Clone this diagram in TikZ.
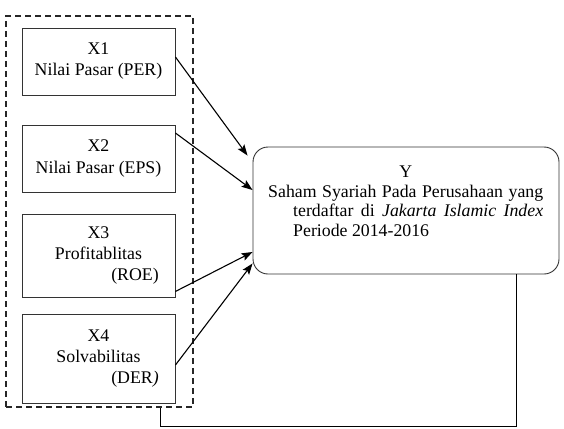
\documentclass[tikz,border=0pt]{standalone}
\usepackage{fontspec}
\setmainfont{Liberation Serif}
\usetikzlibrary{arrows.meta}

\begin{document}
\begin{tikzpicture}[x=1pt,y=-1pt,
  varbox/.style={draw=black!80,line width=0.9pt,minimum width=153pt,inner sep=0pt,
    align=center,font=\fontsize{17.8}{21}\selectfont},
  link/.style={-{Stealth[length=11pt,width=8pt,inset=2pt]},line width=1.1pt}]
\useasboundingbox (0,0) rectangle (564,428);
% dashed frame round the X variables
\node[draw=black!85,dash pattern=on 6pt off 4pt,line width=1.1pt,minimum width=187pt,
  minimum height=391pt,inner sep=0pt] (frame) at (99.5,211.5) {};
% independent variables
\node[varbox,minimum height=67pt] (x1) at (98.5,61.5) {X1\\Nilai Pasar (PER)};
\node[varbox,minimum height=67pt] (x2) at (98.5,158.5) {X2\\Nilai Pasar (EPS)};
\node[varbox,minimum height=83pt] (x3) at (98.5,255.5) {X3\\Profitablitas\\\hspace*{73pt}(ROE)};
\node[varbox,minimum height=89pt] (x4) at (98.5,358.5) {X4\\Solvabilitas\\\hspace*{73pt}(DER\textit{)}};
% dependent variable
\node[draw=black!80,line width=0.9pt,rounded corners=15pt,minimum width=306pt,
  minimum height=127pt,inner sep=0pt] (ybox) at (406,210.5) {};
\node[font=\fontsize{17.8}{19.5}\selectfont,align=left,inner sep=0pt,anchor=north west]
  (ytext) at (268,166) {\makebox[275pt]{Y}\\
  \makebox[275pt][s]{Saham Syariah Pada Perusahaan yang}\\
  \hspace*{25pt}\makebox[250pt][s]{terdaftar di \textit{Jakarta Islamic Index}}\\
  \hspace*{25pt}Periode 2014-2016};
% arrows into Y
\draw[link] ([yshift=4.5pt]x1.east) -- ([xshift=-5pt,yshift=-9pt]ybox.north west);
\draw[link] ([yshift=25.5pt]x2.east) -- ([yshift=20.5pt]ybox.west);
\draw[link] ([yshift=6pt]x3.south east) -- ([yshift=-41.5pt]ybox.west);
\draw[link] ([yshift=-6.5pt]x4.east) -- ([yshift=11pt]ybox.south west);
% line back to the frame
\draw[line width=1.1pt] ([xshift=-43pt]ybox.south east)
  |- ([xshift=-33pt,yshift=-19pt]frame.south east) -- ([xshift=-33pt]frame.south east);
\end{tikzpicture}
\end{document}
